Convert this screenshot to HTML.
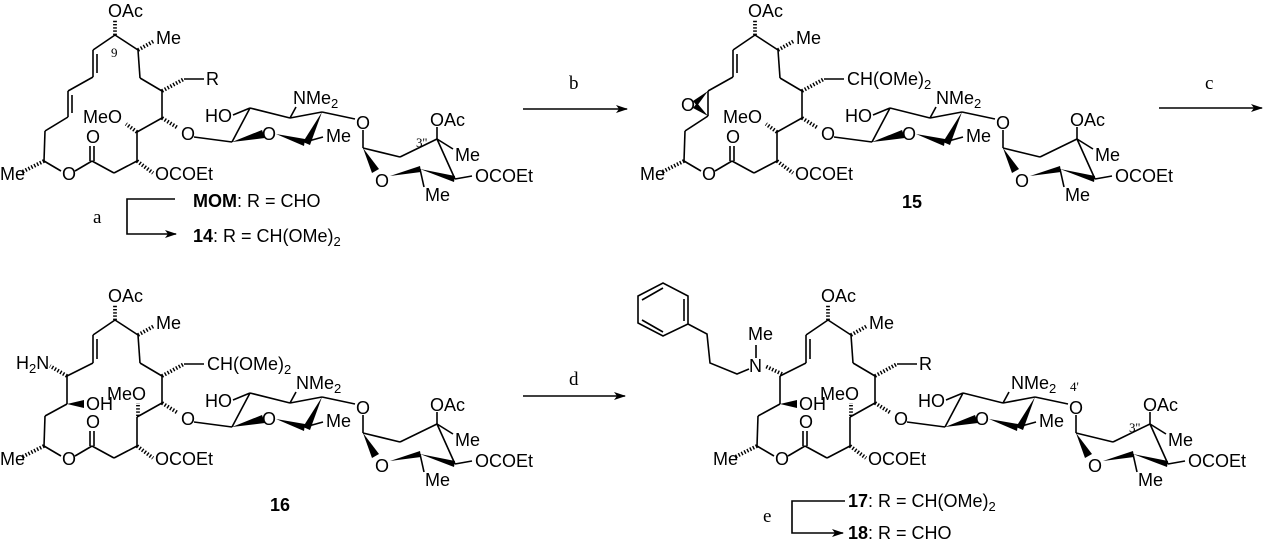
<!DOCTYPE html>
<html><head><meta charset="utf-8"><style>
html,body{margin:0;padding:0;background:#fff;}
svg{display:block}
text{font-family:"Liberation Sans",Arial,sans-serif;font-size:18px;fill:#000}
.s{font-family:"Liberation Serif",serif;font-size:13px}
.l{font-family:"Liberation Serif",serif;font-size:19px}
.b{font-weight:bold}
.sub{font-size:13px}
line,polyline{stroke:#000;stroke-width:1.6;fill:none}
.h{stroke-width:3.8;stroke-dasharray:1.4 1.8}
.w{fill:#000;stroke:none}
</style></head><body>
<svg width="1264" height="546" viewBox="0 0 1264 546" xmlns="http://www.w3.org/2000/svg">
<defs>
<marker id="ah" viewBox="0 0 12 8" refX="11" refY="4" markerWidth="12" markerHeight="8" markerUnits="userSpaceOnUse" orient="auto"><path d="M0,0 L12,4 L0,8 L3,4 z" fill="#000"/></marker>
<g id="core">
<line x1="115" y1="35" x2="138" y2="50"/>
<line x1="138" y1="50" x2="140" y2="78"/>
<line x1="140" y1="78" x2="162" y2="91"/>
<line x1="162" y1="91" x2="162" y2="118"/>
<line x1="162" y1="118" x2="137" y2="132"/>
<line x1="137" y1="132" x2="137" y2="161"/>
<line x1="137" y1="161" x2="114" y2="173"/>
<line x1="114" y1="173" x2="92" y2="161"/>
<line x1="92" y1="161" x2="75" y2="171"/>
<line x1="61" y1="171" x2="44" y2="161"/>
<line x1="90" y1="161" x2="90" y2="146"/>
<line x1="94" y1="161" x2="94" y2="146"/>
<line x1="115" y1="35" x2="93" y2="50"/>
<line x1="45" y1="131" x2="44" y2="161"/>
<line class="h" x1="115" y1="35" x2="115" y2="20"/>
<line class="h" x1="138" y1="50" x2="154" y2="41"/>
<line class="h" x1="44" y1="161" x2="22" y2="172"/>
<line class="h" x1="137" y1="161" x2="153" y2="173"/>
<line class="h" x1="162" y1="118" x2="178" y2="128"/>
<line class="h" x1="162" y1="91" x2="184" y2="79"/>
<line x1="184" y1="79" x2="204" y2="79"/>
<line x1="194" y1="137" x2="232" y2="142"/>
<polygon class="w" points="232,142 262,130 265,138"/>
<polygon class="w" points="276,134 305,139 304,146"/>
<line x1="305" y1="142" x2="323" y2="137"/>
<polygon class="w" points="303,142 322,112 310,145"/>
<line x1="322" y1="112" x2="290" y2="118"/>
<line x1="290" y1="118" x2="296" y2="107"/>
<line x1="290" y1="118" x2="250" y2="108"/>
<line x1="250" y1="108" x2="233" y2="115"/>
<line x1="250" y1="108" x2="232" y2="142"/>
<line x1="322" y1="112" x2="355" y2="119"/>
<line x1="363" y1="130" x2="363" y2="148"/>
<polygon class="w" points="363,148 372,173 379,169"/>
<polygon class="w" points="390,176 420,166 421,172"/>
<line x1="420" y1="169" x2="424" y2="187"/>
<polygon class="w" points="420,169 455,176 454,182"/>
<line x1="455" y1="179" x2="472" y2="176"/>
<line x1="455" y1="179" x2="437" y2="139"/>
<line x1="437" y1="139" x2="437" y2="127"/>
<line x1="437" y1="139" x2="453" y2="149"/>
<line x1="437" y1="139" x2="400" y2="157"/>
<line x1="400" y1="157" x2="363" y2="148"/>
</g>
<g id="diene">
<line x1="93" y1="50" x2="93" y2="77"/>
<line x1="97" y1="54" x2="97" y2="73"/>
<line x1="93" y1="77" x2="68" y2="91"/>
</g>
<g id="ene16">
<line x1="93" y1="50" x2="93" y2="78"/>
<line x1="97" y1="54" x2="97" y2="74"/>
<line x1="93" y1="78" x2="67" y2="91"/>
<line x1="67" y1="91" x2="67" y2="119"/>
<polygon class="w" points="67,119 84,115 84,123"/>
<line x1="67" y1="119" x2="45" y2="131"/>
<line class="h" x1="138" y1="131" x2="138" y2="118"/>
</g>
</defs>

<g>
<use href="#core"/><use href="#diene"/>
<line x1="68" y1="91" x2="68" y2="117"/>
<line x1="72" y1="95" x2="72" y2="113"/>
<line x1="68" y1="117" x2="45" y2="131"/>
<line class="h" x1="137" y1="132" x2="126" y2="124"/>
<text x="108" y="17">OAc</text>
<text x="156" y="44">Me</text>
<text class="s" x="111" y="57">9</text>
<text x="206" y="85">R</text>
<text x="83" y="123">MeO</text>
<text x="86" y="143">O</text>
<text x="62" y="180">O</text>
<text x="0" y="180">Me</text>
<text x="155" y="180">OCOEt</text>
<text x="181" y="140">O</text>
<text x="205" y="122">HO</text>
<text x="262" y="140">O</text>
<text x="293" y="104">NMe<tspan class="sub" dy="4">2</tspan></text>
<text x="326" y="142">Me</text>
<text x="356" y="129">O</text>
<text x="430" y="126">OAc</text>
<text class="s" x="416" y="147">3''</text>
<text x="455" y="161">Me</text>
<text x="375" y="187">O</text>
<text x="475" y="182">OCOEt</text>
<text x="425" y="201">Me</text>
<polyline points="175,199 127,199 127,234 176,234" marker-end="url(#ah)"/>
<text class="l" x="93" y="223">a</text>
<text x="193" y="207"><tspan class="b">MOM</tspan>: R = CHO</text>
<text x="193" y="242"><tspan class="b">14</tspan>: R = CH(OMe)<tspan class="sub" dy="4">2</tspan></text>
</g>

<line x1="523" y1="109" x2="627" y2="109" marker-end="url(#ah)"/>
<text class="l" x="569" y="89">b</text>

<g transform="translate(640,0)">
<use href="#core"/><use href="#diene"/>
<line x1="68" y1="91" x2="68" y2="116"/>
<polygon class="w" points="68,91 53,101 57,106"/>
<polygon class="w" points="68,116 53,108 57,103"/>
<line x1="68" y1="116" x2="45" y2="131"/>
<line class="h" x1="137" y1="132" x2="126" y2="124"/>
<text x="41" y="111">O</text>
<text x="108" y="17">OAc</text>
<text x="156" y="44">Me</text>
<text x="207" y="85">CH(OMe)<tspan class="sub" dy="4">2</tspan></text>
<text x="83" y="123">MeO</text>
<text x="86" y="143">O</text>
<text x="62" y="180">O</text>
<text x="0" y="180">Me</text>
<text x="155" y="180">OCOEt</text>
<text x="181" y="140">O</text>
<text x="205" y="122">HO</text>
<text x="262" y="140">O</text>
<text x="296" y="104">NMe<tspan class="sub" dy="4">2</tspan></text>
<text x="326" y="142">Me</text>
<text x="356" y="129">O</text>
<text x="430" y="126">OAc</text>
<text x="455" y="161">Me</text>
<text x="375" y="187">O</text>
<text x="475" y="182">OCOEt</text>
<text x="425" y="201">Me</text>
<text class="b" x="262" y="208">15</text>
</g>

<line x1="1159" y1="108" x2="1262" y2="108" marker-end="url(#ah)"/>
<text class="l" x="1205" y="89">c</text>

<g transform="translate(0,285)">
<use href="#core"/><use href="#ene16"/>
<line class="h" x1="67" y1="91" x2="50" y2="81"/>
<text x="16" y="84">H<tspan class="sub" dy="4">2</tspan><tspan dy="-4">N</tspan></text>
<text x="86" y="125">OH</text>
<text x="107" y="115">MeO</text>
<text x="108" y="17">OAc</text>
<text x="156" y="44">Me</text>
<text x="207" y="85">CH(OMe)<tspan class="sub" dy="4">2</tspan></text>
<text x="86" y="143">O</text>
<text x="62" y="180">O</text>
<text x="0" y="180">Me</text>
<text x="155" y="180">OCOEt</text>
<text x="181" y="140">O</text>
<text x="205" y="122">HO</text>
<text x="262" y="140">O</text>
<text x="296" y="104">NMe<tspan class="sub" dy="4">2</tspan></text>
<text x="326" y="142">Me</text>
<text x="356" y="129">O</text>
<text x="430" y="126">OAc</text>
<text x="455" y="161">Me</text>
<text x="375" y="187">O</text>
<text x="475" y="182">OCOEt</text>
<text x="425" y="201">Me</text>
<text class="b" x="270" y="226">16</text>
</g>

<line x1="523" y1="396" x2="625" y2="396" marker-end="url(#ah)"/>
<text class="l" x="569" y="385">d</text>

<g transform="translate(713,285)">
<use href="#core"/><use href="#ene16"/>
<line class="h" x1="69" y1="89" x2="52" y2="81"/>
<text x="36" y="87">N</text>
<line x1="43" y1="73" x2="43" y2="60"/>
<text x="35" y="55">Me</text>
<polyline points="36,84 24,89 -3,78 -6,49 -25,39"/>
<polygon points="-25,39 -25,11 -50,-2 -75,11 -75,38 -50,51" style="stroke:#000;stroke-width:1.6;fill:none"/>
<line x1="-29" y1="14" x2="-29" y2="36"/>
<line x1="-71" y1="15" x2="-50" y2="3"/>
<line x1="-71" y1="35" x2="-50" y2="47"/>
<text x="86" y="125">OH</text>
<text x="107" y="115">MeO</text>
<text x="108" y="17">OAc</text>
<text x="156" y="44">Me</text>
<text x="206" y="85">R</text>
<text x="86" y="143">O</text>
<text x="62" y="180">O</text>
<text x="0" y="180">Me</text>
<text x="155" y="180">OCOEt</text>
<text x="181" y="140">O</text>
<text x="205" y="122">HO</text>
<text x="262" y="140">O</text>
<text x="298" y="104">NMe<tspan class="sub" dy="4">2</tspan></text>
<text class="s" x="357" y="106">4'</text>
<text x="326" y="142">Me</text>
<text x="356" y="129">O</text>
<text x="430" y="126">OAc</text>
<text class="s" x="416" y="147">3''</text>
<text x="455" y="161">Me</text>
<text x="375" y="187">O</text>
<text x="475" y="182">OCOEt</text>
<text x="425" y="201">Me</text>
<polyline points="132,216 79,216 79,248 130,248" marker-end="url(#ah)"/>
<text class="l" x="50" y="237">e</text>
<text x="135" y="222"><tspan class="b">17</tspan>: R = CH(OMe)<tspan class="sub" dy="4">2</tspan></text>
<text x="135" y="254"><tspan class="b">18</tspan>: R = CHO</text>
</g>
</svg>
</body></html>
